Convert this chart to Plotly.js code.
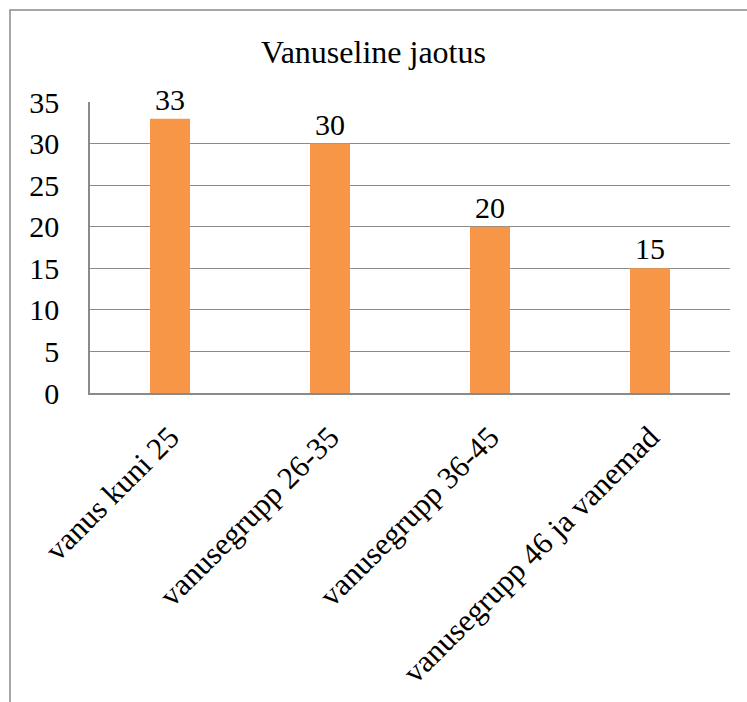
<!DOCTYPE html>
<html>
<head>
<meta charset="utf-8">
<script src="https://cdn.plot.ly/plotly-3.0.1.min.js"></script>
<style>html,body{margin:0;padding:0;background:#fff;}</style>
</head>
<body>
<div id="chart" style="width:747px;height:702px;"></div>
<script>
const categories = ["vanus kuni 25", "vanusegrupp 26-35", "vanusegrupp 36-45", "vanusegrupp 46 ja vanemad"];
const values = [33, 30, 20, 15];
const yTicks = [0, 5, 10, 15, 20, 25, 30, 35];
const chartTitle = "Vanuseline jaotus";

const FONT = "Liberation Serif";
const GRID = "#8a8a8a";

const trace = {
  type: "bar",
  x: categories,
  y: values,
  marker: {color: "#F79646"},
  width: 0.25,
  text: values.map(String),
  textposition: "outside",
  textfont: {family: FONT, size: 30, color: "#000000"},
  cliponaxis: false,
  hoverinfo: "skip"
};

const layout = {
  width: 747,
  height: 702,
  margin: {l: 90, r: 17, t: 102, b: 309, pad: 0},
  paper_bgcolor: "#ffffff",
  plot_bgcolor: "#ffffff",
  showlegend: false,
  title: {
    text: chartTitle,
    font: {family: FONT, size: 32, color: "#000000"},
    x: 0.5, xanchor: "center",
    y: 1 - 52 / 702, yanchor: "middle"
  },
  bargap: 0.75,
  xaxis: {
    type: "category",
    tickangle: -45,
    tickfont: {family: FONT, size: 31, color: "#000000"},
    showline: true, linecolor: GRID, linewidth: 1.5,
    showgrid: false,
    ticks: "",
    ticklabelstandoff: 12
  },
  yaxis: {
    range: [0, 35],
    tickvals: yTicks,
    ticktext: yTicks.map(String),
    tickfont: {family: FONT, size: 30, color: "#000000"},
    showline: true, linecolor: GRID, linewidth: 1.5,
    showgrid: true, gridcolor: GRID, gridwidth: 1.3,
    zeroline: false,
    ticks: "",
    ticklabelstandoff: 23
  },
  shapes: [{
    type: "rect", xref: "paper", yref: "paper",
    x0: (10 - 90) / 640, x1: (760 - 90) / 640,
    y0: (393 - 715) / 291, y1: (393 - 10) / 291,
    line: {color: "#8a8a8a", width: 1.5},
    fillcolor: "rgba(0,0,0,0)",
    layer: "below"
  }]
};

Plotly.newPlot("chart", [trace], layout, {displayModeBar: false});
</script>
</body>
</html>
